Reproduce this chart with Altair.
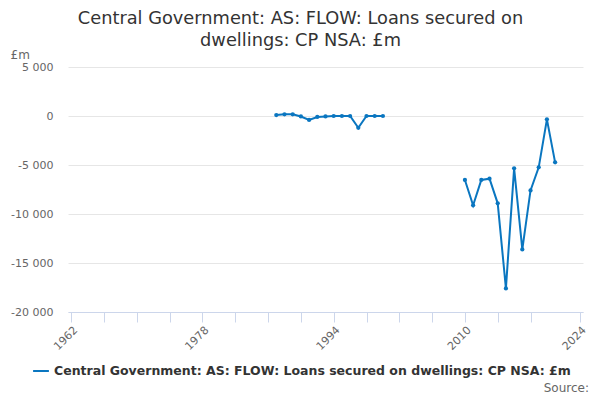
import altair as alt
import pandas as pd

SERIES = "Central Government: AS: FLOW: Loans secured on dwellings: CP NSA: £m"

years_a = list(range(1987, 2001))
values_a = [100, 170, 170, -50, -400, -100, -50, 0, 0, 0, -1200, 0, 0, 0]

years_b = list(range(2010, 2022))
values_b = [-6530, -9110, -6530, -6400, -8910, -17590, -5340, -13610, -7590, -5240, -340, -4730]

x_ticks = [1962, 1966, 1970, 1974, 1978, 1982, 1986, 1990, 1994, 1998, 2002, 2006, 2010, 2014, 2018, 2024]
x_labels = [1962, 1978, 1994, 2010, 2024]
y_ticks = [-20000, -15000, -10000, -5000, 0, 5000]

rows = []
for y, v in zip(years_a, values_a):
    rows.append({"year": y, "value": v, "segment": "a", "series": SERIES})
for y, v in zip(years_b, values_b):
    rows.append({"year": y, "value": v, "segment": "b", "series": SERIES})
df = pd.DataFrame(rows)

FONT = "DejaVu Sans"
BLUE = "#0a76c0"

label_test = "indexof([" + ",".join(str(v) for v in x_labels) + "], datum.value) >= 0 ? '' + datum.value : ''"

x_enc = alt.X(
    "year:Q",
    scale=alt.Scale(domain=[1961.6, 2024.4], nice=False, zero=False),
    axis=alt.Axis(
        values=x_ticks,
        labelExpr=label_test,
        title=None,
        grid=False,
        domainColor="#ccd6eb",
        tickColor="#ccd6eb",
        tickSize=10,
        labelAngle=-45,
        labelAlign="right",
        labelBaseline="top",
        labelFontSize=11,
        labelColor="#666666",
        labelFont=FONT,
        labelPadding=2,
        labelOverlap=False,
    ),
)
y_enc = alt.Y(
    "value:Q",
    scale=alt.Scale(domain=[-20000, 5000], nice=False),
    axis=alt.Axis(
        values=y_ticks,
        labelExpr="(datum.value < 0 ? '-' : '') + replace(format(abs(datum.value), ','), ',', ' ')",
        title="£m",
        titleAngle=0,
        titleX=-58,
        titleY=-9,
        titleAlign="left",
        titleBaseline="alphabetic",
        titleFont=FONT,
        titleFontSize=12,
        titleFontWeight="normal",
        titleColor="#666666",
        grid=True,
        gridColor="#e6e6e6",
        domain=False,
        ticks=False,
        labelFontSize=11,
        labelColor="#666666",
        labelFont=FONT,
        labelPadding=15,
    ),
)

line = alt.Chart(df).mark_line(strokeWidth=2, point=alt.OverlayMarkDef(filled=True, size=18, color=BLUE)).encode(
    x=x_enc,
    y=y_enc,
    detail="segment:N",
    color=alt.Color(
        "series:N",
        scale=alt.Scale(range=[BLUE]),
        legend=alt.Legend(
            title=None,
            orient="none",
            legendX=-36,
            legendY=295,
            symbolType="stroke",
            symbolStrokeWidth=2,
            symbolSize=250,
            labelFont=FONT,
            labelFontSize=12.5,
            labelFontWeight="bold",
            labelColor="#333333",
            labelLimit=700,
        ),
    ),
)

source = alt.Chart(pd.DataFrame({"t": ["Source:"]})).mark_text(
    align="right", baseline="alphabetic", font=FONT, fontSize=12, color="#666666"
).encode(x=alt.value(521), y=alt.value(325), text="t:N")

chart = (
    alt.layer(line, source)
    .properties(
        width=515,
        height=245,
        padding={"left": 60, "top": 59, "right": 9, "bottom": 83},
        autosize=alt.AutoSizeParams(type="none"),
        title=alt.TitleParams(
            text=["Central Government: AS: FLOW: Loans secured on", "dwellings: CP NSA: £m"],
            anchor="middle",
            dx=-25,
            offset=-2,
            font=FONT,
            fontSize=17.8,
            fontWeight="normal",
            color="#333333",
            lineHeight=22,
        ),
    )
    .configure_view(stroke=None)
)

chart.save("out.html", embed_options={"renderer": "svg", "actions": False})
